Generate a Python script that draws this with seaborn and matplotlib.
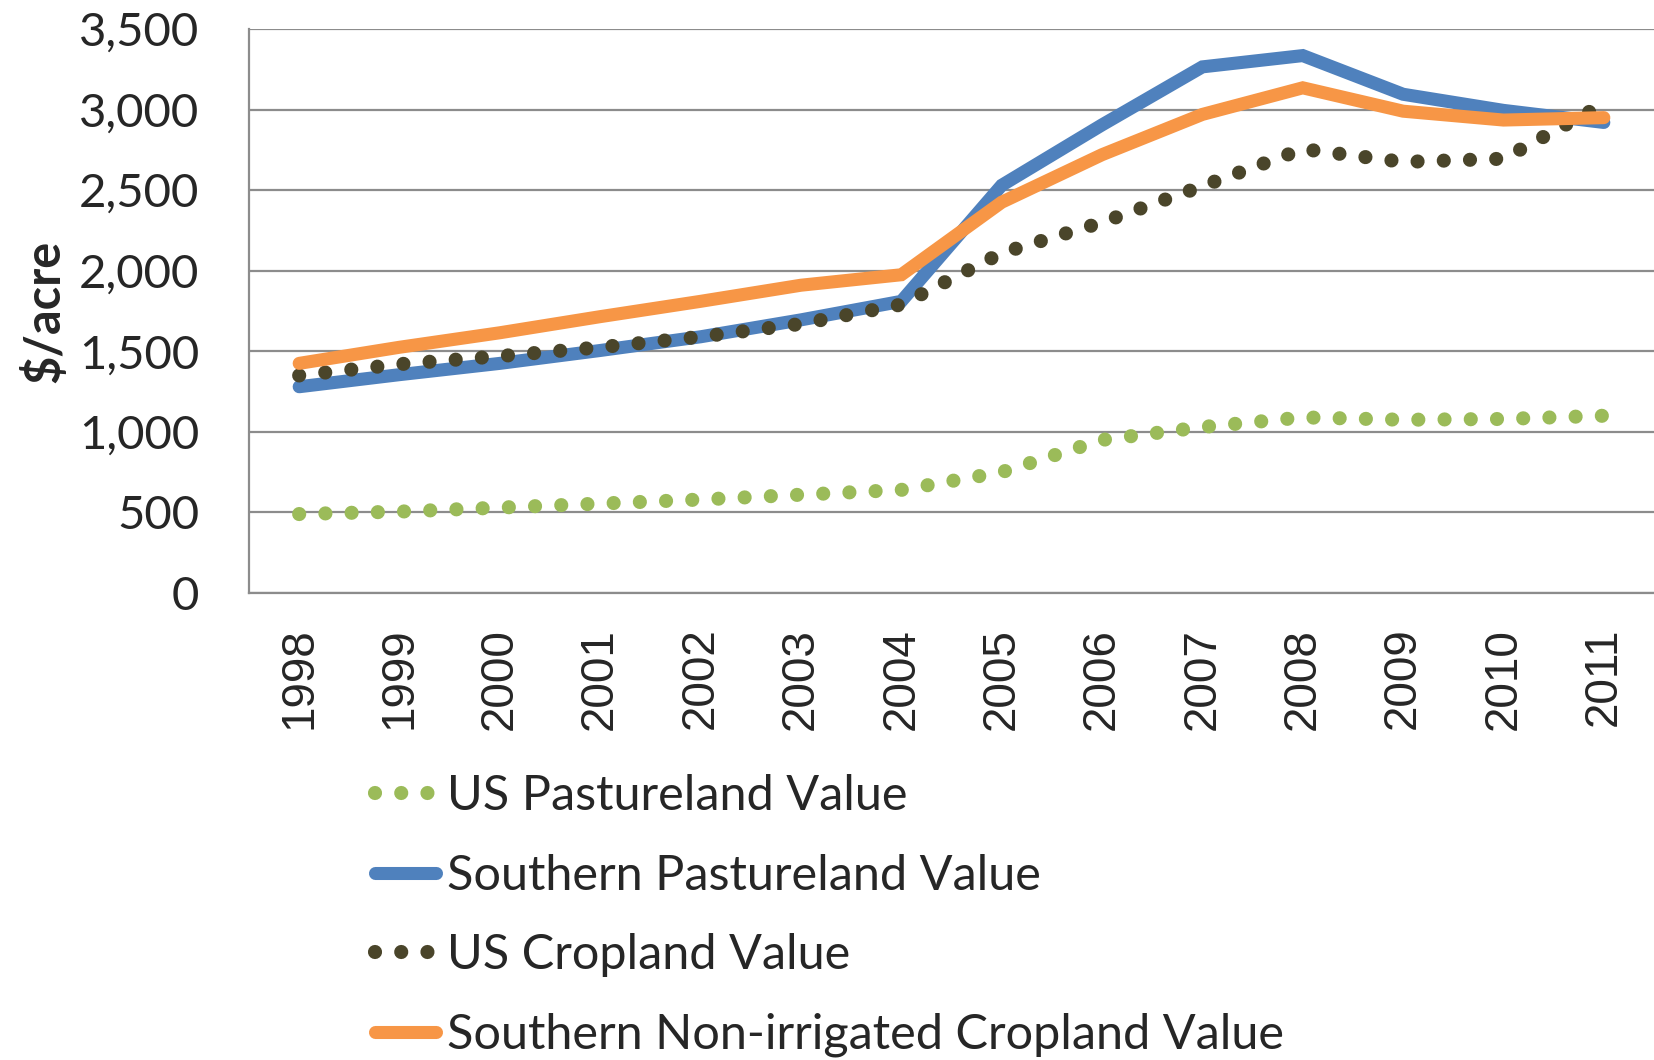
import numpy as np
import pandas as pd
import matplotlib
matplotlib.use("Agg")
import matplotlib.pyplot as plt
import seaborn as sns
from matplotlib.ticker import FuncFormatter

# values ($/acre)
years = [1998, 1999, 2000, 2001, 2002, 2003, 2004,
         2005, 2006, 2007, 2008, 2009, 2010, 2011]
us_pasture = [490, 505, 530, 555, 580, 610, 640,
              750, 950, 1030, 1090, 1075, 1080, 1100]
south_pasture = [1280, 1355, 1425, 1505, 1590, 1695, 1810,
                 2530, 2905, 3265, 3335, 3095, 2995, 2920]
us_crop = [1350, 1420, 1470, 1525, 1590, 1670, 1790,
           2110, 2300, 2525, 2755, 2675, 2695, 3035]
south_crop = [1425, 1525, 1615, 1715, 1810, 1910, 1975,
              2425, 2720, 2970, 3135, 2990, 2935, 2950]

labels = ["US Pastureland Value", "Southern Pastureland Value",
          "US Cropland Value", "Southern Non-irrigated Cropland Value"]
colors = ["#9BBB59", "#4F81BD", "#4A452A", "#F79646"]
dotted = [True, False, True, False]

df = pd.DataFrame({"year": years,
                   labels[0]: us_pasture, labels[1]: south_pasture,
                   labels[2]: us_crop, labels[3]: south_crop})

sns.set_theme(style="white")
plt.rcParams["font.family"] = ["Lato", "DejaVu Sans"]

fig = plt.figure(figsize=(16.54, 10.60), dpi=100)
ax = fig.add_axes([249 / 1654, 1 - 593 / 1060, 1 - 249 / 1654, (593 - 29) / 1060])

for lab, col, dot in zip(labels, colors, dotted):
    if dot:
        sns.lineplot(data=df, x="year", y=lab, ax=ax, color=col, lw=10.2,
                     label=lab, linestyle=(0, (0.001, 1.85)),
                     dash_capstyle="round")
    else:
        sns.lineplot(data=df, x="year", y=lab, ax=ax, color=col, lw=9.4,
                     label=lab, solid_capstyle="round",
                     solid_joinstyle="miter")

ax.set_xlim(years[0] - 0.5, years[-1] + 0.5)
ax.set_ylim(0, 3500)
ax.set_yticks(range(0, 3501, 500))
ax.yaxis.set_major_formatter(FuncFormatter(lambda v, p: f"{int(v):,}"))
ax.set_xticks(years)
ax.set_xticklabels([str(y) for y in years], rotation=90,
                   family="Liberation Sans", fontsize=33)
ax.tick_params(axis="y", labelsize=34, length=0, pad=36)
ax.tick_params(axis="x", length=0, pad=25)

ax.grid(axis="y", color="#8C8C8C", lw=1.6)
ax.set_axisbelow(True)
for s in ["top", "right"]:
    ax.spines[s].set_visible(False)
for s in ["left", "bottom"]:
    ax.spines[s].set_color("#8C8C8C")
    ax.spines[s].set_linewidth(1.6)

ax.set_xlabel("")
ax.set_ylabel("$/acre", fontsize=35, fontweight="bold")
ax.yaxis.set_label_coords(-0.129, 0.5)

ax.legend(loc="upper left", bbox_to_anchor=(107 / 1405, -0.287),
          frameon=False, fontsize=35, handlelength=1.25,
          handletextpad=0.22, labelspacing=0.73, borderaxespad=0)

fig.savefig("out.png", dpi=100)
